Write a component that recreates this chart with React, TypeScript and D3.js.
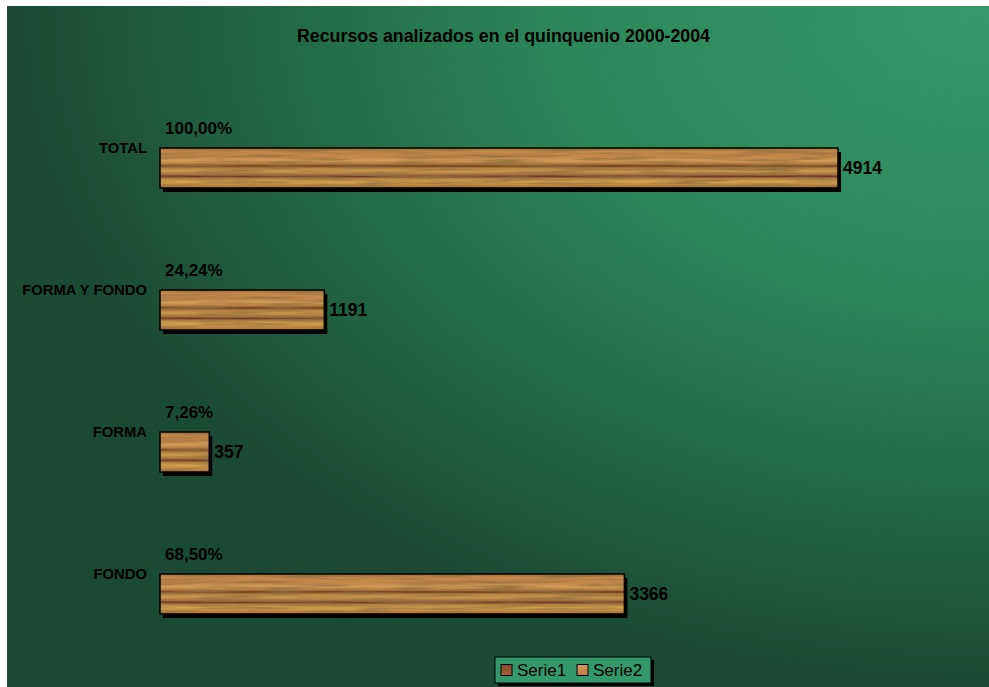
import React, { useEffect, useRef } from "react";
import * as d3 from "d3";

const categories = ["TOTAL", "FORMA Y FONDO", "FORMA", "FONDO"];
const serie1 = [1.0, 0.2424, 0.0726, 0.685]; // share of total
const serie2 = [4914, 1191, 357, 3366]; // resources
const seriesNames = ["Serie1", "Serie2"];
const title = "Recursos analizados en el quinquenio 2000-2004";

const W = 989;
const H = 687;
const font = "'Liberation Sans', Arial, sans-serif";

const App = () => {
  const svgRef = useRef<SVGSVGElement>(null);

  useEffect(() => {
    const svg = d3.select(svgRef.current);
    svg.selectAll("*").remove();

    const defs = svg.append("defs");

    // corner gradient of the chart area
    const bg = defs
      .append("radialGradient")
      .attr("id", "bg")
      .attr("cx", 1)
      .attr("cy", 0)
      .attr("r", 1.0)
      .attr("fx", 1)
      .attr("fy", 0);
    bg.append("stop").attr("offset", "0%").attr("stop-color", "#37996b");
    bg.append("stop").attr("offset", "45%").attr("stop-color", "#2b8658");
    bg.append("stop").attr("offset", "100%").attr("stop-color", "#1b4a34");

    // wood stripes
    const woodStops: [number, string][] = [
      [0, "#a86a35"],
      [0.08, "#c48a4a"],
      [0.22, "#c28848"],
      [0.32, "#d09e58"],
      [0.4, "#b57a3e"],
      [0.45, "#663c18"],
      [0.5, "#b5803f"],
      [0.58, "#c99a50"],
      [0.66, "#a8733c"],
      [0.71, "#6a3428"],
      [0.76, "#b0803f"],
      [0.84, "#d4a450"],
      [0.92, "#c28a42"],
      [1, "#a36a34"],
    ];
    const wood = defs
      .append("linearGradient")
      .attr("id", "wood")
      .attr("x1", 0)
      .attr("y1", 0)
      .attr("x2", 0)
      .attr("y2", 1);
    woodStops.forEach(([o, c]) =>
      wood.append("stop").attr("offset", o).attr("stop-color", c)
    );
    const sw1 = defs.append("linearGradient").attr("id", "sw1").attr("x2", 0).attr("y2", 1);
    sw1.append("stop").attr("offset", 0).attr("stop-color", "#8a4a28");
    sw1.append("stop").attr("offset", 1).attr("stop-color", "#a5603a");
    const sw2 = defs.append("linearGradient").attr("id", "sw2").attr("x2", 0).attr("y2", 1);
    sw2.append("stop").attr("offset", 0).attr("stop-color", "#d49860");
    sw2.append("stop").attr("offset", 1).attr("stop-color", "#c07c48");

    const grain = defs
      .append("filter")
      .attr("id", "grain")
      .attr("x", 0)
      .attr("y", 0)
      .attr("width", 1)
      .attr("height", 1);
    grain
      .append("feTurbulence")
      .attr("type", "fractalNoise")
      .attr("baseFrequency", "0.015 0.3")
      .attr("numOctaves", 3)
      .attr("seed", 7)
      .attr("result", "noise");
    grain
      .append("feColorMatrix")
      .attr("in", "noise")
      .attr("type", "matrix")
      .attr("values", "0 0 0 0 0.3  0 0 0 0 0.16  0 0 0 0 0.05  0 0 0 -2.2 1.35")
      .attr("result", "tint");
    grain
      .append("feComposite")
      .attr("in", "tint")
      .attr("in2", "SourceGraphic")
      .attr("operator", "in")
      .attr("result", "clipped");
    const merge = grain.append("feMerge");
    merge.append("feMergeNode").attr("in", "SourceGraphic");
    merge.append("feMergeNode").attr("in", "clipped");

    svg
      .append("rect")
      .attr("x", 7)
      .attr("y", 6)
      .attr("width", W - 7)
      .attr("height", H - 6)
      .attr("fill", "url(#bg)");

    svg
      .append("text")
      .attr("x", 503.5)
      .attr("y", 42)
      .attr("text-anchor", "middle")
      .attr("font-family", font)
      .attr("font-weight", "bold")
      .attr("font-size", 17.5)
      .attr("textLength", 413)
      .attr("lengthAdjust", "spacingAndGlyphs")
      .text(title);

    const x = d3.scaleLinear().domain([0, 4914]).range([160, 838]);
    const y = d3
      .scaleBand()
      .domain(categories)
      .range([77, 645])
      .paddingInner(62 / 142)
      .paddingOuter(31 / 142);
    const ys = d3.scaleBand().domain(seriesNames).range([0, y.bandwidth()]);

    const g = svg
      .selectAll(".cat")
      .data(categories)
      .enter()
      .append("g")
      .attr("class", "cat")
      .attr("transform", (d) => `translate(0,${y(d)})`);

    // category labels
    g.append("text")
      .attr("x", 147)
      .attr("y", ys("Serie2")!)
      .attr("dy", "0.36em")
      .attr("text-anchor", "end")
      .attr("font-family", font)
      .attr("font-weight", "bold")
      .attr("font-size", 14.8)
      .text((d) => d);

    // Serie2 bars: shadow, wood, border
    g.append("rect")
      .attr("x", x(0) + 3)
      .attr("y", ys("Serie2")! + 4)
      .attr("width", (d, i) => x(serie2[i]) - x(0))
      .attr("height", ys.bandwidth())
      .attr("fill", "#000");
    g.append("rect")
      .attr("x", x(0))
      .attr("y", ys("Serie2")!)
      .attr("width", (d, i) => x(serie2[i]) - x(0))
      .attr("height", ys.bandwidth())
      .attr("fill", "url(#wood)")
      .attr("filter", "url(#grain)");
    g.append("rect")
      .attr("x", x(0))
      .attr("y", ys("Serie2")!)
      .attr("width", (d, i) => x(serie2[i]) - x(0))
      .attr("height", ys.bandwidth())
      .attr("fill", "none")
      .attr("stroke", "#000")
      .attr("stroke-width", 1.5);

    // value labels
    g.append("text")
      .attr("x", (d, i) => x(serie2[i]) + 5)
      .attr("y", ys("Serie2")! + ys.bandwidth() / 2)
      .attr("dy", "0.36em")
      .attr("font-family", font)
      .attr("font-weight", "bold")
      .attr("font-size", 17.5)
      .text((d, i) => serie2[i]);

    // Serie1 labels (share)
    const pct = (v: number) => (v * 100).toFixed(2).replace(".", ",") + "%";
    g.append("text")
      .attr("x", x(0) + 5)
      .attr("y", ys("Serie1")! + ys.bandwidth() / 2)
      .attr("dy", "0.36em")
      .attr("font-family", font)
      .attr("font-weight", "bold")
      .attr("font-size", 17)
      .text((d, i) => pct(serie1[i]));

    // legend
    const lg = svg.append("g").attr("transform", "translate(495,657)");
    lg.append("rect")
      .attr("x", 3)
      .attr("y", 3)
      .attr("width", 156)
      .attr("height", 26)
      .attr("fill", "#000");
    lg.append("rect")
      .attr("width", 156)
      .attr("height", 26)
      .attr("fill", "#34996a")
      .attr("stroke", "#000")
      .attr("stroke-width", 1);
    seriesNames.forEach((s, i) => {
      const ox = 6 + i * 76;
      lg.append("rect")
        .attr("x", ox)
        .attr("y", 7.5)
        .attr("width", 11)
        .attr("height", 11)
        .attr("fill", i === 0 ? "url(#sw1)" : "url(#sw2)")
        .attr("stroke", "#000")
        .attr("stroke-width", 1);
      lg.append("text")
        .attr("x", ox + 16)
        .attr("y", 19)
        .attr("font-family", font)
        .attr("font-size", 17)
        .text(s);
    });
  }, []);

  return (
    <svg
      ref={svgRef}
      width={W}
      height={H}
      style={{ position: "absolute", left: 0, top: 0, background: "#fff" }}
    ></svg>
  );
};

export default App;
